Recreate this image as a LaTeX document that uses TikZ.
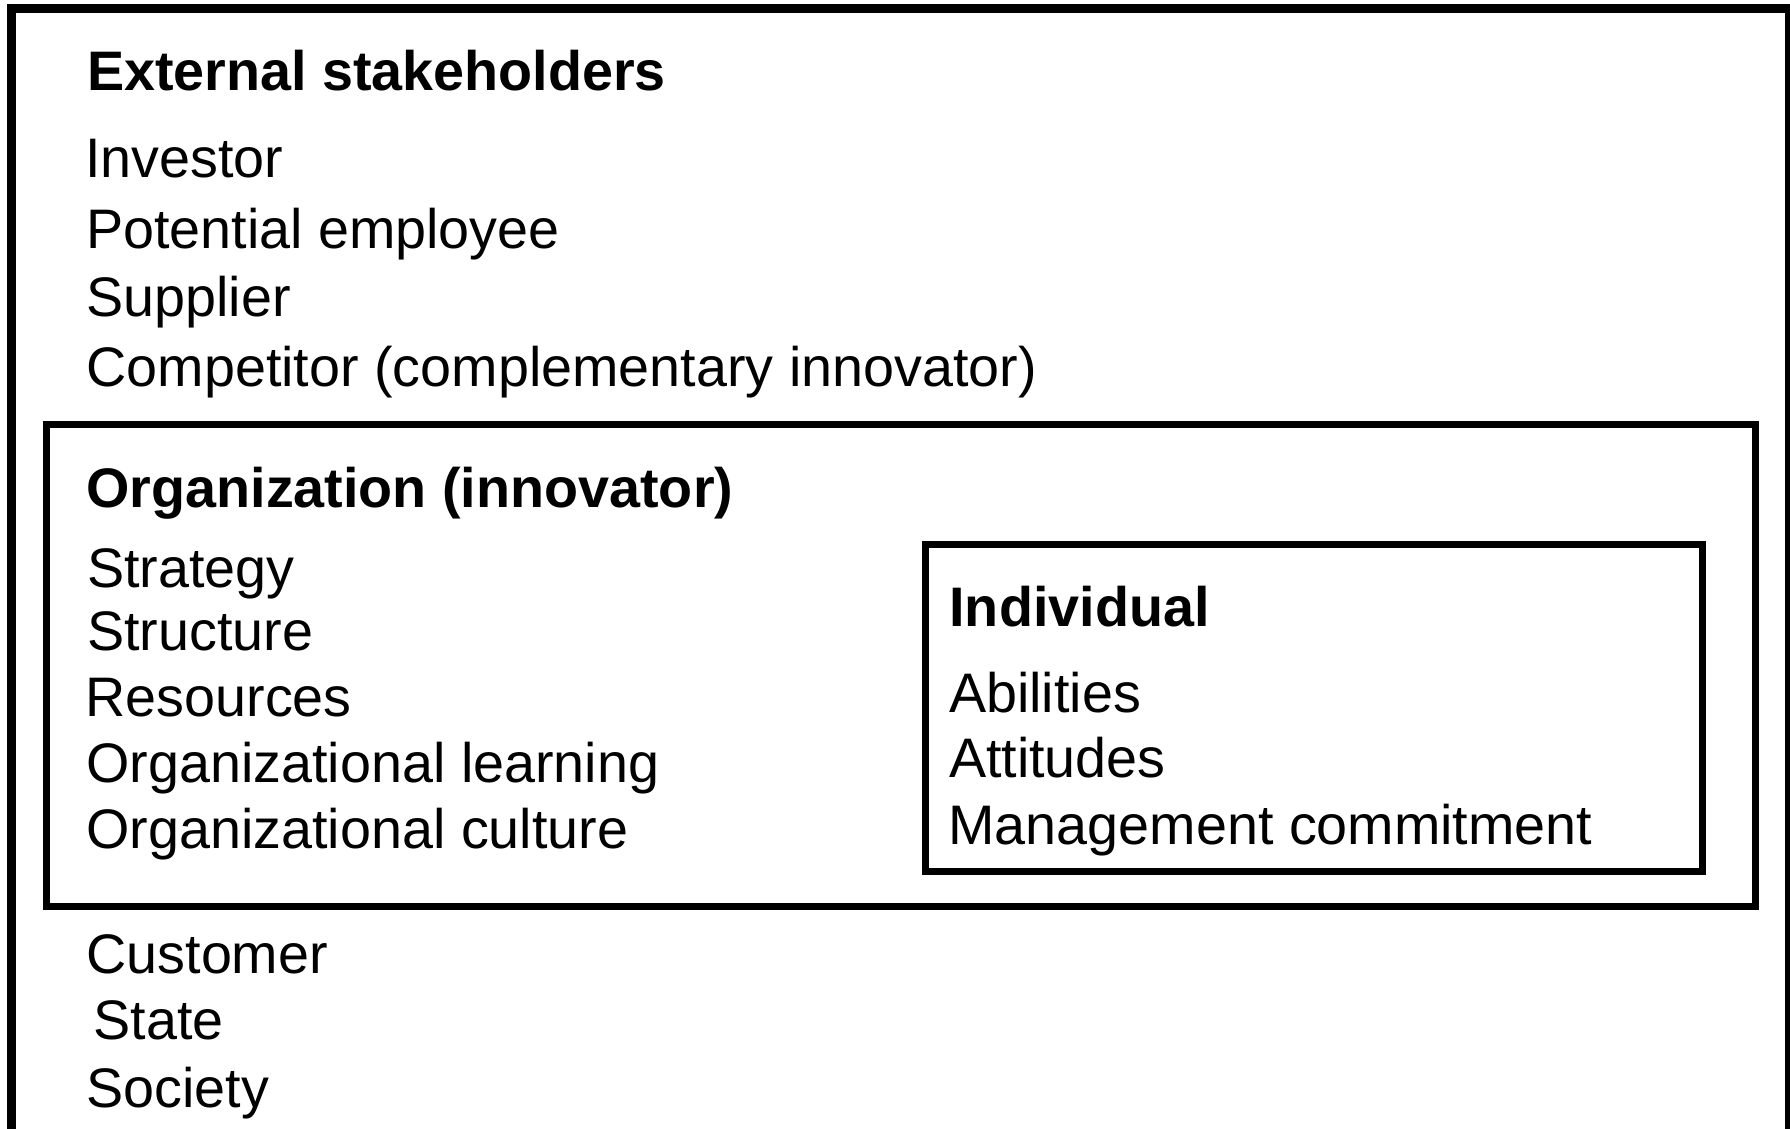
\documentclass[tikz,border=0pt]{standalone}
\usepackage{fontspec}
\setmainfont{Liberation Sans}
\begin{document}
\begin{tikzpicture}[x=1pt,y=-1pt,
  txt/.style={anchor=base west,inner sep=0pt,outer sep=0pt,font=\fontsize{55.7}{66}\selectfont},
  head/.style={txt,font=\fontsize{55.7}{66}\selectfont\bfseries},
  outerbox/.style={draw=black,line width=9pt},
  framebox/.style={draw=black,line width=7pt}]
\useasboundingbox (0,0) rectangle (1790,1128);
\clip (0,0) rectangle (1790,1128);
\fill[white] (0,0) rectangle (1790,1128);
% boxes
\draw[outerbox] (11.5,8) rectangle (1789,1160);
\draw[framebox] (46.5,424.5) rectangle (1755.5,906.5);
\draw[framebox] (925.5,544) rectangle (1702,871);
% external stakeholders
\node[head] (ext) at (87,90) {External stakeholders};
\node[txt] (inv) at (85,177) {Investor};
\node[txt] (pot) at (86,248) {Potential employee};
\node[txt] (sup) at (86.5,316) {Supplier};
\node[txt] (comp) at (86.5,386) {Competitor (complementary innovator)};
% organization
\node[head] (org) at (86.5,507) {Organization (innovator)};
\node[txt] (strat) at (87,587) {Strategy};
\node[txt] (struc) at (87,650) {Structure};
\node[txt] (res) at (85.5,716) {Resources};
\node[txt] (olearn) at (86.5,782) {Organizational learning};
\node[txt] (oculture) at (86.5,848) {Organizational culture};
% individual
\node[head] (ind) at (949.5,626) {Individual};
\node[txt] (abil) at (949,712) {Abilities};
\node[txt] (att) at (949,777) {Attitudes};
\node[txt] (mgmt) at (948.5,844) {Management commitment};
% bottom
\node[txt] (cust) at (86.5,973) {Customer};
\node[txt] (state) at (93.5,1039) {State};
\node[txt] (soc) at (86.5,1107) {Society};
\end{tikzpicture}
\end{document}
